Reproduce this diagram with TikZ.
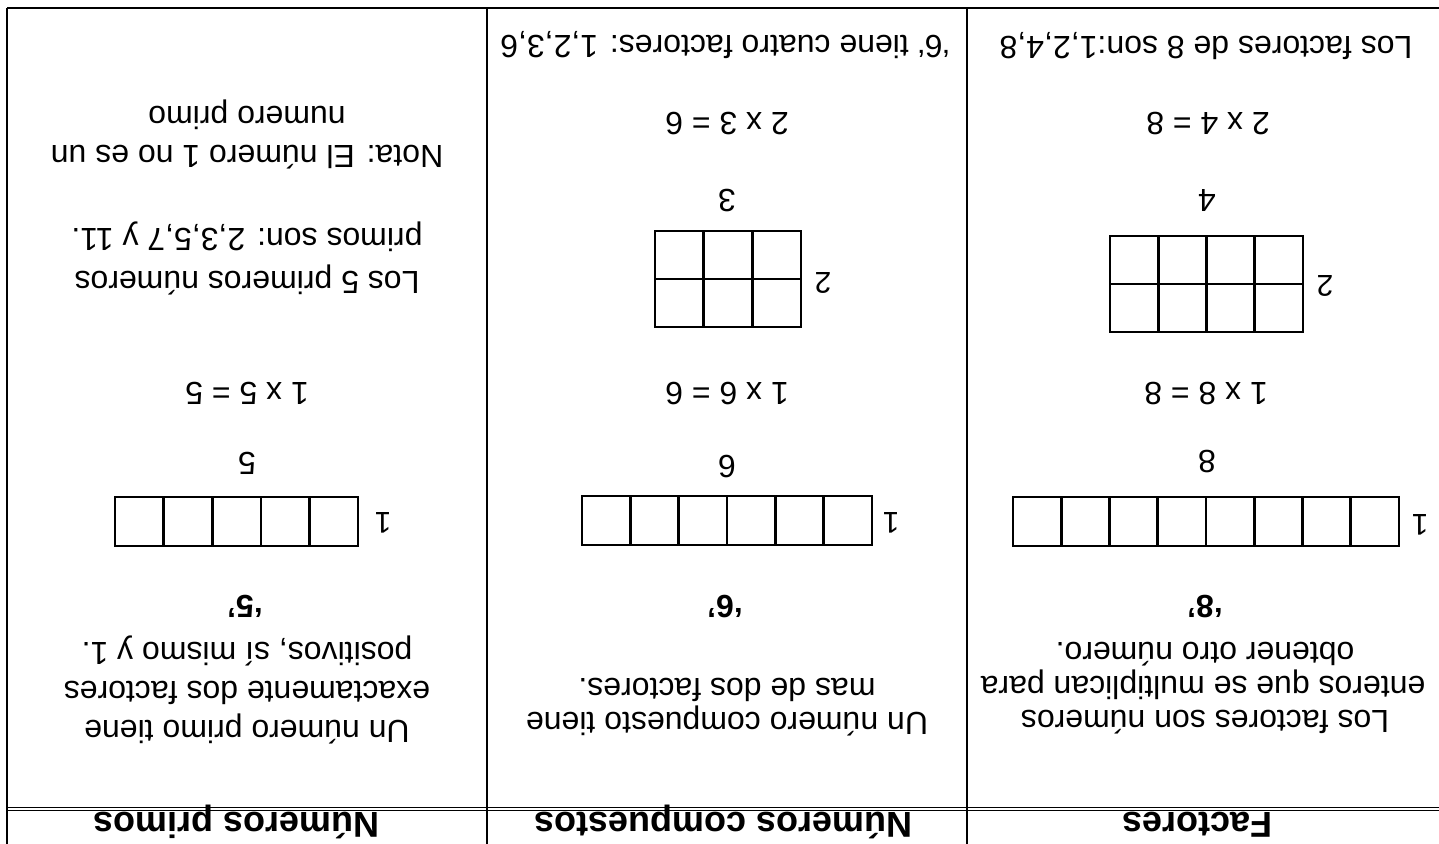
\documentclass[tikz,border=0pt]{standalone}
\usepackage{fontspec}
\setmainfont{Liberation Sans}
\tikzset{
  txt/.style={rotate=180, anchor=base, inner sep=0pt, font=\fontsize{16}{19}\selectfont},
  bold/.style={txt, font=\fontsize{16}{19}\selectfont\bfseries},
  head/.style={txt, font=\fontsize{18}{21}\selectfont\bfseries},
  lab/.style={rotate=180, anchor=center, inner sep=0pt, font=\fontsize{15}{18}\selectfont},
  rule/.style={line width=1pt, black},
  cellline/.style={line width=1.3pt, black},
}
\begin{document}
\begin{tikzpicture}[x=0.5pt, y=-0.5pt]
\useasboundingbox (0,0) rectangle (1439,844);
\clip (0,0) rectangle (1439,844);
% table rules
\draw[rule] (7,8) -- (1439,8);
\draw[rule] (7,8) -- (7,844);
\draw[rule] (487,8) -- (487,844);
\draw[rule] (967,8) -- (967,844);
\draw[line width=0.8pt] (7,807.5) -- (1439,807.5);
\draw[line width=0.8pt] (7,810.5) -- (1439,810.5);

% headers
\node[head] (h3) at (1197,812) {Factores};
\node[head] (h2) at (723,812) {Números compuestos};
\node[head] (h1) at (236,812) {Números primos};

% ---------- column 3: Factores ----------
\node[txt] (c3a) at (1205,710) {Los factores son números};
\node[txt] (c3b) at (1203,676) {enteros que se multiplican para};
\node[txt] (c3c) at (1205,642) {obtener otro número.};
\node[bold] (c3q) at (1205,595) {‘8’};
\foreach \i in {0,...,7} \draw[cellline] ({1013+\i*48.25},497) rectangle ++(48.25,49);
\node[lab] (c3one) at (1420,525) {1};
\node[txt] (c3n) at (1207,450) {8};
\node[txt] (c3e1) at (1206,382) {1 x 8 = 8};
\foreach \i in {0,...,3} \foreach \j in {0,1} \draw[cellline] ({1110+\i*48.25},{236+\j*48}) rectangle ++(48.25,48);
\node[lab] (c3two) at (1325,286) {2};
\node[txt] (c3f) at (1207,190) {4};
\node[txt] (c3e2) at (1208,113) {2 x 4 = 8};
\node[txt] (c3s) at (1206,37) {Los factores de 8 son:1,2,4,8};

% ---------- column 2: Números compuestos ----------
\node[txt] (c2a) at (727,712) {Un número compuesto tiene};
\node[txt] (c2b) at (727,678) {mas de dos factores.};
\node[bold] (c2q) at (725,595) {‘6’};
\foreach \i in {0,...,5} \draw[cellline] ({582+\i*48.33},496) rectangle ++(48.33,49);
\node[lab] (c2one) at (891,523) {1};
\node[txt] (c2n) at (727,455) {6};
\node[txt] (c2e1) at (727,382) {1 x 6 = 6};
\foreach \i in {0,...,2} \foreach \j in {0,1} \draw[cellline] ({655+\i*48.67},{231+\j*48}) rectangle ++(48.67,48);
\node[lab] (c2two) at (823,283) {2};
\node[txt] (c2f) at (727,190) {3};
\node[txt] (c2e2) at (727,113) {2 x 3 = 6};
\node[txt] (c2s) at (725,36) {‘6‘ tiene cuatro factores: 1,2,3,6};

% ---------- column 1: Números primos ----------
\node[txt] (c1a) at (247,720) {Un número primo tiene};
\node[txt] (c1b) at (247,681) {exactamente dos factores};
\node[txt] (c1c) at (247,642) {positivos, sí mismo y 1.};
\node[bold] (c1q) at (245,595) {‘5’};
\foreach \i in {0,...,4} \draw[cellline] ({115+\i*48.6},497) rectangle ++(48.6,49);
\node[lab] (c1one) at (383,523) {1};
\node[txt] (c1n) at (247,452) {5};
\node[txt] (c1e1) at (247,382) {1 x 5 = 5};
\node[txt] (c1d) at (247,272) {Los 5 primeros números};
\node[txt] (c1e) at (247,229) {primos son: 2,3,5,7 y 11.};
\node[txt] (c1f) at (247,146) {Nota: El número 1 no es un};
\node[txt] (c1g) at (247,107) {numero primo};
\end{tikzpicture}
\end{document}
